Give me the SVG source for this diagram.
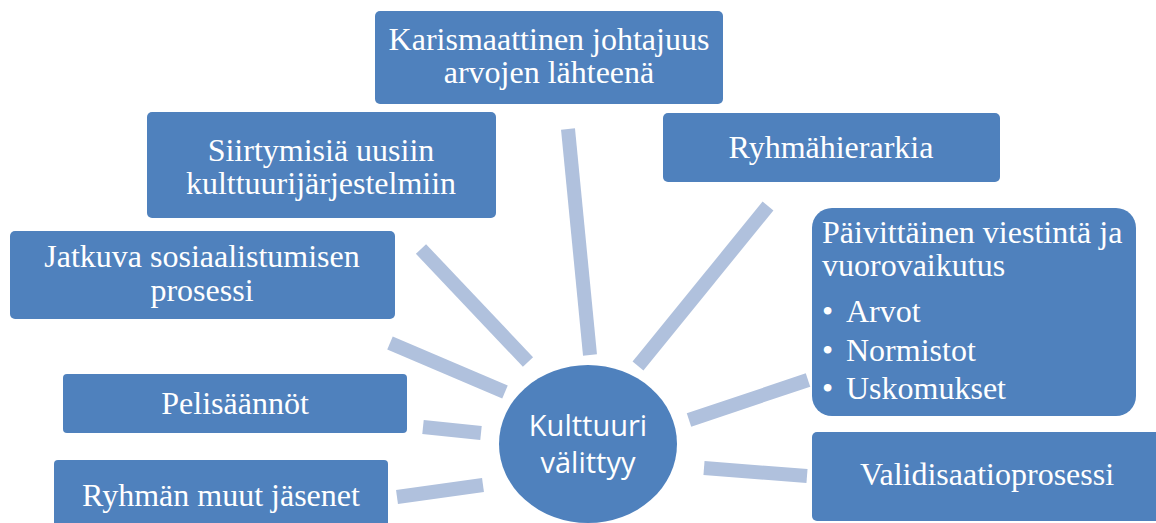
<svg xmlns="http://www.w3.org/2000/svg" width="1156" height="523" viewBox="0 0 1156 523">
  <style>
    .box { fill: #4F81BD; }
    .lbl { font-family: "Liberation Serif", "Times New Roman", serif; font-size: 32px; fill: #FFFFFF; }
    .mid { text-anchor: middle; }
    .hub { font-family: "Open Sans", "Noto Sans", sans-serif; font-size: 29px; fill: #FFFFFF; text-anchor: middle; }
    .spoke { stroke: #B0C1DD; stroke-width: 14; stroke-linecap: butt; fill: none; }
  </style>

  <!-- spokes around the centre -->
  <g id="connectors">
    <line class="spoke" x1="568" y1="129" x2="590" y2="355"/>
    <line class="spoke" x1="421" y1="249" x2="528" y2="362"/>
    <line class="spoke" x1="768" y1="206" x2="638" y2="366"/>
    <line class="spoke" x1="390" y1="343" x2="505" y2="392"/>
    <line class="spoke" x1="423" y1="427" x2="481" y2="433"/>
    <line class="spoke" x1="397" y1="497" x2="483" y2="485"/>
    <line class="spoke" x1="689" y1="420" x2="808" y2="380"/>
    <line class="spoke" x1="704" y1="468" x2="807" y2="476"/>
  </g>

  <g id="hub">
    <ellipse cx="588" cy="444" rx="89" ry="79" fill="#4F81BD"/>
    <text class="hub" x="588" y="436">Kulttuuri</text>
    <text class="hub" x="588" y="473">välittyy</text>
  </g>

  <g id="node-karismaattinen">
    <rect class="box" x="375" y="11" width="348" height="93" rx="5"/>
    <text class="lbl mid" x="549" y="50">Karismaattinen johtajuus</text>
    <text class="lbl mid" x="549" y="83">arvojen lähteenä</text>
  </g>

  <g id="node-siirtymisia">
    <rect class="box" x="147" y="112" width="349" height="106" rx="5"/>
    <text class="lbl mid" x="321" y="161">Siirtymisiä uusiin</text>
    <text class="lbl mid" x="321" y="194">kulttuurijärjestelmiin</text>
  </g>

  <g id="node-ryhmahierarkia">
    <rect class="box" x="663" y="113" width="337" height="69" rx="5"/>
    <text class="lbl mid" x="831" y="158">Ryhmähierarkia</text>
  </g>

  <g id="node-paivittainen">
    <rect class="box" x="812" y="208" width="324" height="208" rx="20"/>
    <text class="lbl" x="822" y="243">Päivittäinen viestintä ja</text>
    <text class="lbl" x="822" y="276">vuorovaikutus</text>
    <text class="lbl" x="822" y="322">•</text>
    <text class="lbl" x="846" y="322">Arvot</text>
    <text class="lbl" x="822" y="361">•</text>
    <text class="lbl" x="846" y="361">Normistot</text>
    <text class="lbl" x="822" y="399">•</text>
    <text class="lbl" x="846" y="399">Uskomukset</text>
  </g>

  <g id="node-jatkuva">
    <rect class="box" x="10" y="231" width="385" height="88" rx="5"/>
    <text class="lbl mid" x="202" y="267">Jatkuva sosiaalistumisen</text>
    <text class="lbl mid" x="202" y="301">prosessi</text>
  </g>

  <g id="node-pelisaannot">
    <rect class="box" x="63" y="374" width="344" height="59" rx="4"/>
    <text class="lbl mid" x="235" y="414">Pelisäännöt</text>
  </g>

  <g id="node-ryhman-muut">
    <rect class="box" x="54" y="460" width="334" height="70" rx="4"/>
    <text class="lbl mid" x="221" y="506">Ryhmän muut jäsenet</text>
  </g>

  <g id="node-validisaatio">
    <rect class="box" x="812" y="432" width="350" height="89" rx="5"/>
    <text class="lbl mid" x="987" y="485">Validisaatioprosessi</text>
  </g>
</svg>
